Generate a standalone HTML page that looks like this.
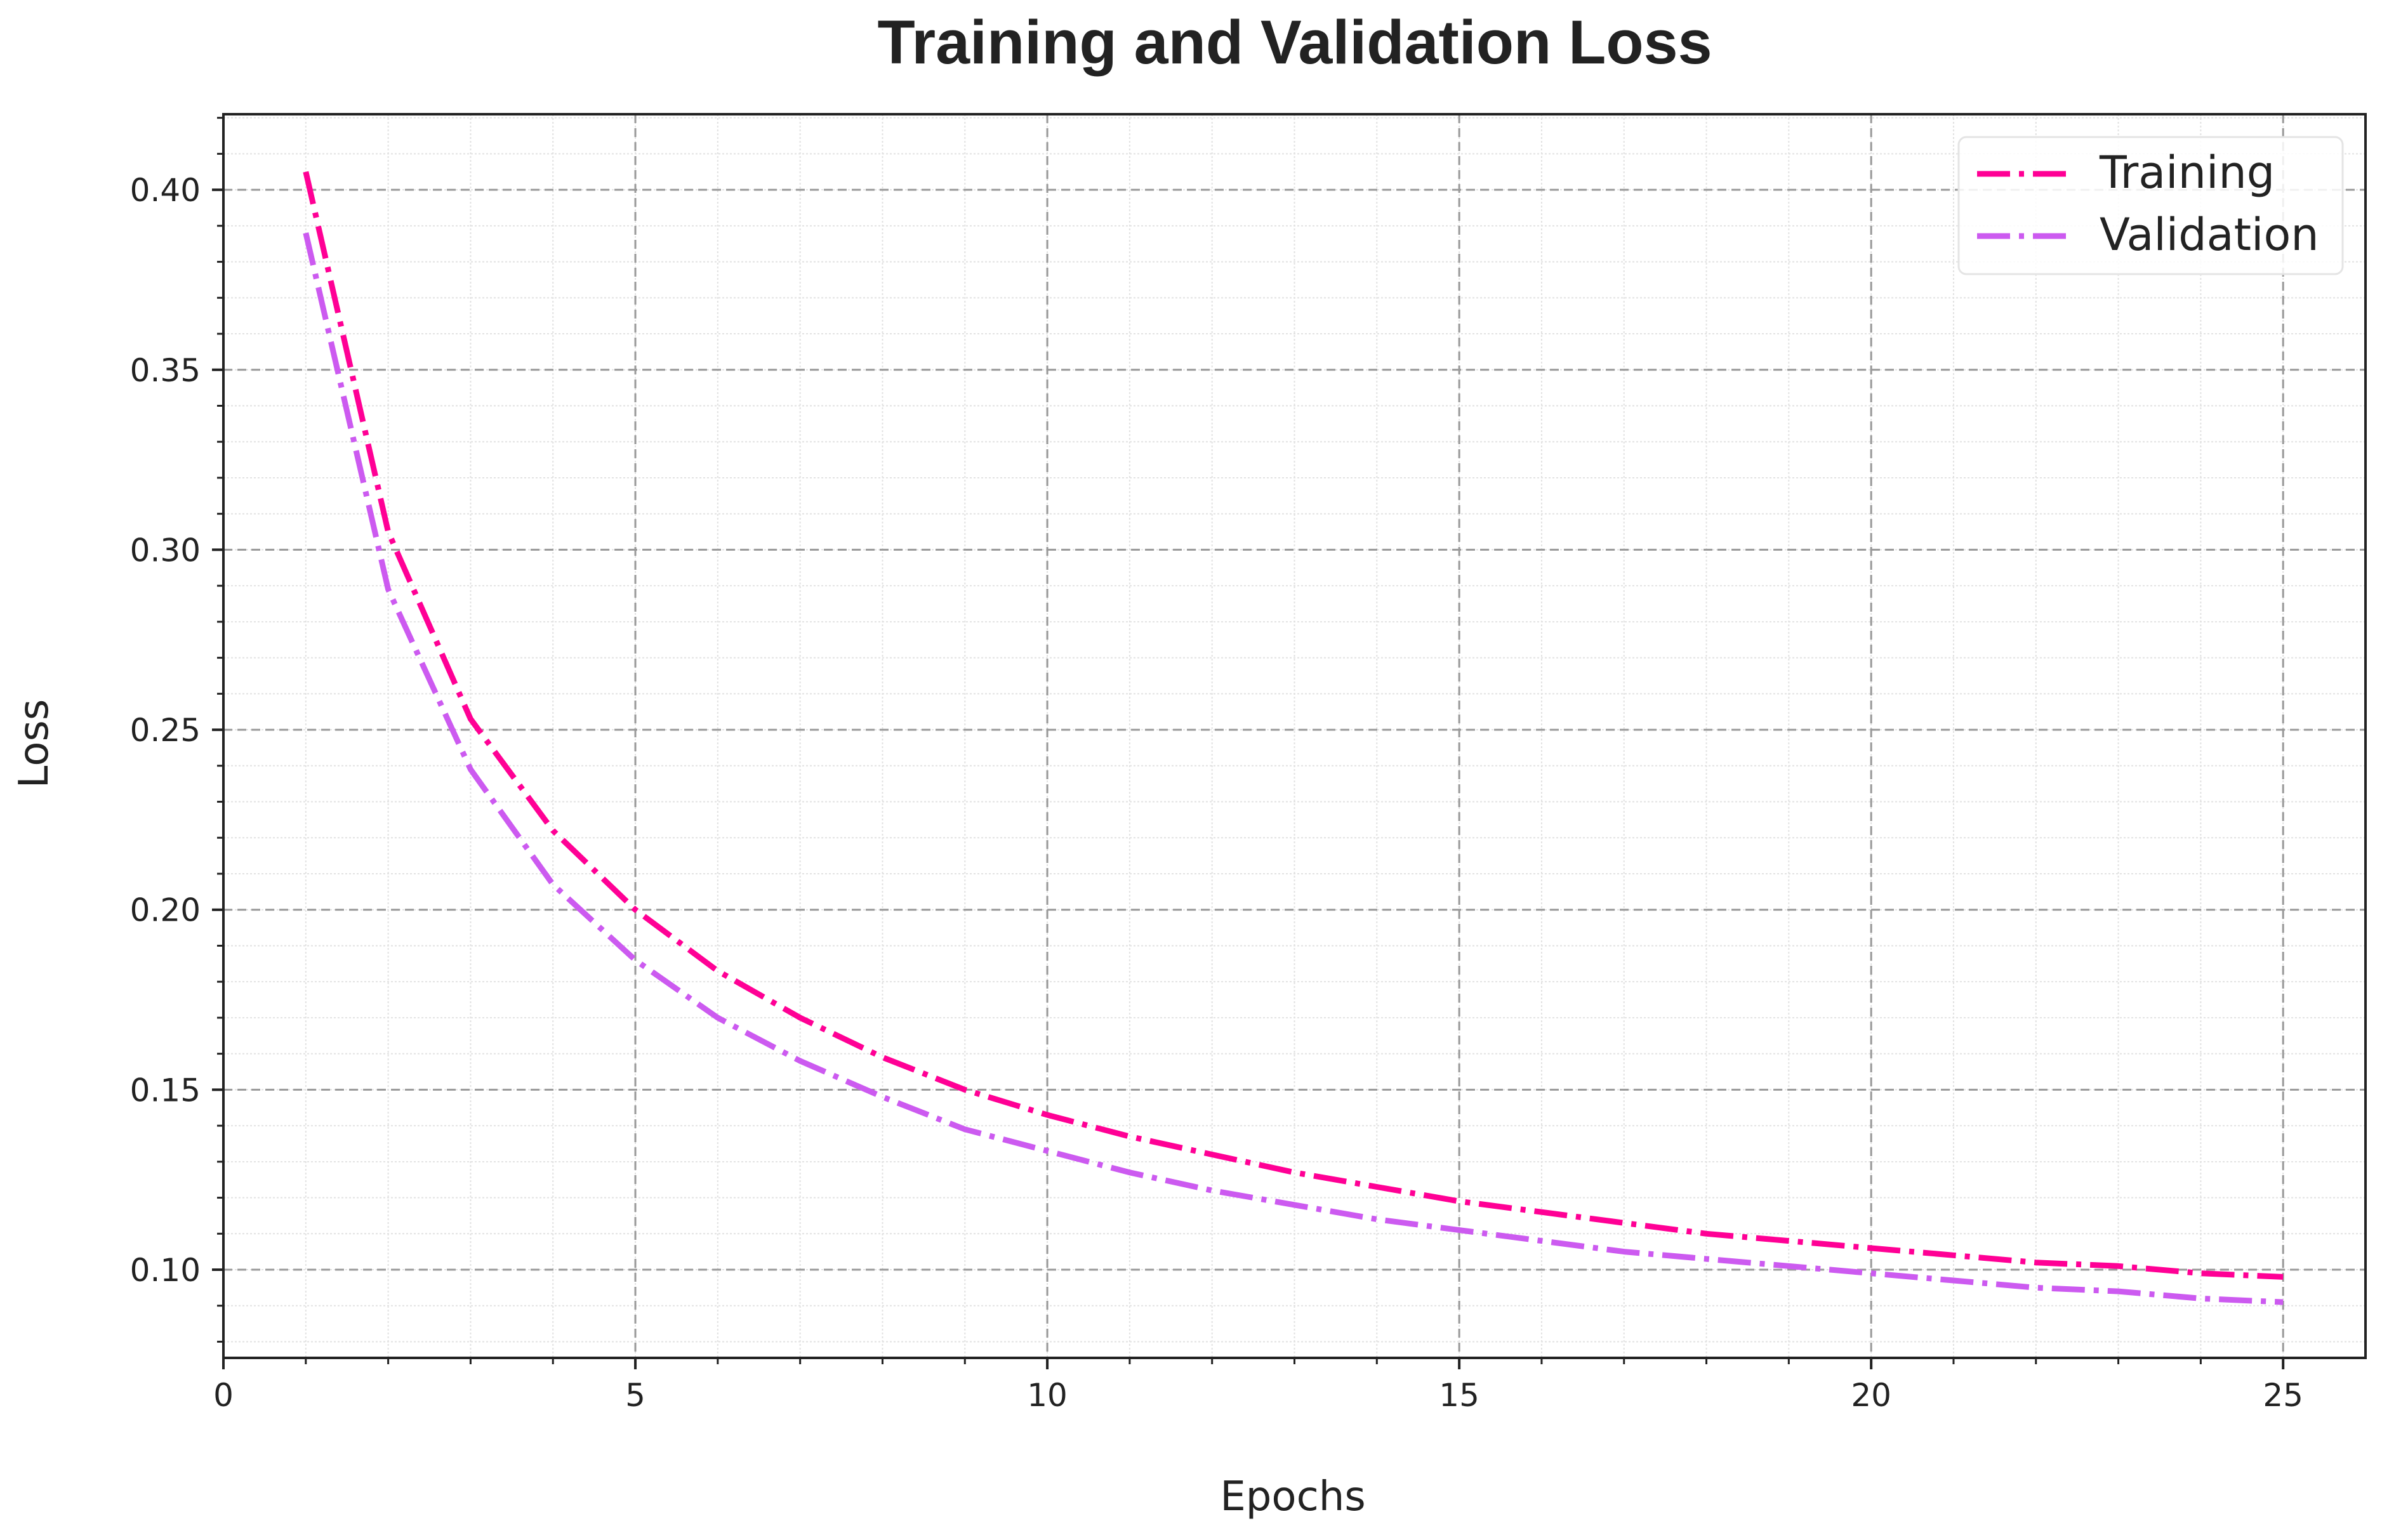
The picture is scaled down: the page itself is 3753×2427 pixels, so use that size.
<!DOCTYPE html>
<html><head><meta charset="utf-8"><style>
html,body{margin:0;padding:0;background:#fff;}
svg text{font-family:"DejaVu Sans","Liberation Sans",sans-serif;fill:#222;}
</style></head><body>
<svg id="chart" width="3753" height="2422" viewBox="0 0 3753 2422" xmlns="http://www.w3.org/2000/svg">
<rect width="3753" height="2422" fill="#fff"/>
<text x="2040" y="100" text-anchor="middle" font-size="97" font-weight="bold" style="font-family:'Liberation Sans',sans-serif">Training and Validation Loss</text>
<g id="grid"></g>
<g id="series"></g>
<g id="axes"></g>
<text x="2037" y="2380" text-anchor="middle" font-size="64">Epochs</text>
<text transform="translate(75,1172) rotate(-90)" text-anchor="middle" font-size="64">Loss</text>
<g>
<rect x="3086" y="216" width="605" height="216" rx="12" fill="#fff" fill-opacity="0.85" stroke="#e4e4e4" stroke-width="3"/>
<line x1="3115" y1="274" x2="3260" y2="274" stroke="#ff0095" stroke-width="9" stroke-dasharray="52,14,8,14"/>
<text x="3308" y="296" font-size="70">Training</text>
<line x1="3115" y1="372" x2="3260" y2="372" stroke="#cc5af0" stroke-width="9" stroke-dasharray="52,14,8,14"/>
<text x="3308" y="394" font-size="70">Validation</text>
</g>
</svg>
<script>
const epochs=[1,2,3,4,5,6,7,8,9,10,11,12,13,14,15,16,17,18,19,20,21,22,23,24,25];
const trainingLoss=[0.405,0.305,0.253,0.222,0.200,0.183,0.170,0.159,0.150,0.143,0.137,0.132,0.127,0.123,0.119,0.116,0.113,0.110,0.108,0.106,0.104,0.102,0.101,0.099,0.098];
const validationLoss=[0.388,0.289,0.239,0.207,0.186,0.170,0.158,0.148,0.139,0.133,0.127,0.122,0.118,0.114,0.111,0.108,0.105,0.103,0.101,0.099,0.097,0.095,0.094,0.092,0.091];
const xTicks=[0,5,10,15,20,25];
const yTicks=[0.10,0.15,0.20,0.25,0.30,0.35,0.40];
const yTickLabels=["0.10","0.15","0.20","0.25","0.30","0.35","0.40"];

const L=352,R=3727,T=180,B=2140;
const xMin=0,xMax=26.0,yMin=0.0755,yMax=0.421;
function xs(v){return L+(v-xMin)/(xMax-xMin)*(R-L);}
function ys(v){return B-(v-yMin)/(yMax-yMin)*(B-T);}
const NS="http://www.w3.org/2000/svg";
function mk(tag,attrs,parent){const e=document.createElementNS(NS,tag);for(const k in attrs)e.setAttribute(k,attrs[k]);parent.appendChild(e);return e;}
const grid=document.getElementById('grid'),axes=document.getElementById('axes'),series=document.getElementById('series');
for(let i=1;i<26;i++){
  const l=mk('line',{x1:xs(i),x2:xs(i),y1:T,y2:B,stroke:'#e2e2e2','stroke-width':2,'stroke-dasharray':'3,3'},grid);
  
  
}
for(let k=8;k<=42;k++){
  const v=k/100;
  const l=mk('line',{x1:L,x2:R,y1:ys(v),y2:ys(v),stroke:'#e2e2e2','stroke-width':2,'stroke-dasharray':'3,3'},grid);
  
  
}
xTicks.forEach(v=>{if(v===0)return;
  const l=mk('line',{x1:xs(v),x2:xs(v),y1:T,y2:B,stroke:'#999','stroke-width':3,'stroke-dasharray':'14,8'},grid);
  
  
});
yTicks.forEach(v=>{
  const l=mk('line',{x1:L,x2:R,y1:ys(v),y2:ys(v),stroke:'#999','stroke-width':3,'stroke-dasharray':'14,8'},grid);
  
  
});
function drawSeries(vals,color,name){
  const d=vals.map((v,i)=>(i?'L':'M')+xs(epochs[i]).toFixed(1)+','+ys(v).toFixed(1)).join(' ');
  const p=mk('path',{d:d,fill:'none',stroke:color,'stroke-width':9,'stroke-dasharray':'52,14,8,14','stroke-linejoin':'round'},series);
  
  
}
drawSeries(validationLoss,'#cc5af0','validation-line');
drawSeries(trainingLoss,'#ff0095','training-line');
const fr=mk('rect',{x:L,y:T,width:R-L,height:B-T,fill:'none',stroke:'#222','stroke-width':4},axes);


for(let i=1;i<26;i++){
  const t=mk('line',{x1:xs(i),x2:xs(i),y1:B,y2:B+10,stroke:'#222','stroke-width':3},axes);
  
  
}
for(let k=8;k<=42;k++){
  const t=mk('line',{x1:L-10,x2:L,y1:ys(k/100),y2:ys(k/100),stroke:'#222','stroke-width':3},axes);
  
  
}
xTicks.forEach(v=>{
  const t=mk('line',{x1:xs(v),x2:xs(v),y1:B,y2:B+18,stroke:'#222','stroke-width':4},axes);
  
  
  const tx=mk('text',{x:xs(v),y:B+76,'text-anchor':'middle','font-size':50},axes);
  tx.textContent=String(v);
  
  
});
yTicks.forEach((v,i)=>{
  const t=mk('line',{x1:L-18,x2:L,y1:ys(v),y2:ys(v),stroke:'#222','stroke-width':4},axes);
  
  
  const tx=mk('text',{x:L-36,y:ys(v)+18,'text-anchor':'end','font-size':50},axes);
  tx.textContent=yTickLabels[i];
  
  
});
</script>
</body></html>
